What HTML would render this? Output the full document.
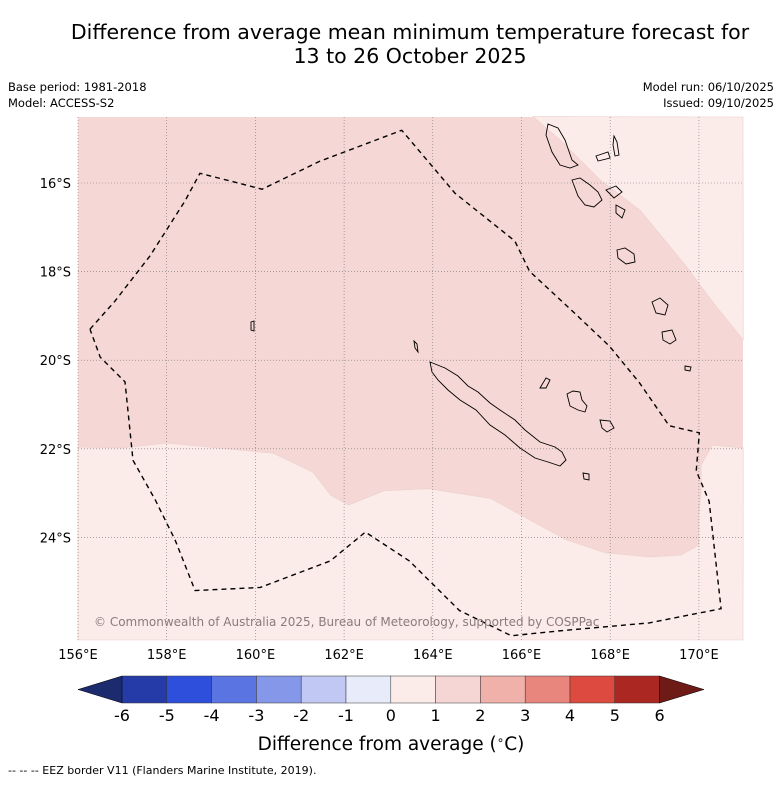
<!DOCTYPE html>
<html><head><meta charset="utf-8"><style>
body{margin:0;background:#fff;font-family:"Liberation Sans","DejaVu Sans",sans-serif}
svg text{font-family:"DejaVu Sans","Liberation Sans",sans-serif}
</style></head><body>
<svg id="c" width="781" height="781" viewBox="0 0 781 781" xmlns="http://www.w3.org/2000/svg">
<text x="410" y="39" font-size="20.5" text-anchor="middle">Difference from average mean minimum temperature forecast for</text>
<text x="410" y="63" font-size="20.5" text-anchor="middle">13 to 26 October 2025</text>
<text x="8" y="91" font-size="11.5">Base period: 1981-2018</text>
<text x="8" y="107" font-size="11.5">Model: ACCESS-S2</text>
<text x="774" y="91" font-size="11.5" text-anchor="end">Model run: 06/10/2025</text>
<text x="774" y="107" font-size="11.5" text-anchor="end">Issued: 09/10/2025</text>
<g id="map"></g>
<g id="cbar"></g>
<text x="391" y="750" font-size="18.5" text-anchor="middle">Difference from average (<tspan font-size="12" dy="-6">∘</tspan><tspan dy="6">C)</tspan></text>
<text x="8" y="774" font-size="11">--  --  -- EEZ border V11 (Flanders Marine Institute, 2019).</text>
</svg>
<script>
const lonTicks=[156,158,160,162,164,166,168,170];
const latTicks=[16,18,20,22,24];
const levels=[-6,-5,-4,-3,-2,-1,0,1,2,3,4,5,6];
const colors=["#243ba8","#2e4fdc","#5a74e2","#8497e9","#c1c8f3","#e8ebfa","#fbebe9","#f5d6d4","#efb1aa","#e8867e","#dc4a40","#ab2822"];
const lightSouthLon=[156,157,158,160.4,161.3,161.7,162.1,162.9,163.9,165.3,167,167.9,168.9,169.6,170,170,170.05,170.05,170.3,171];
const lightSouthLat=[21.96,21.98,21.87,22.1,22.53,23.05,23.27,22.95,22.9,23.12,24.05,24.35,24.44,24.4,24.17,23.5,22.93,22.37,21.92,21.98];
const lightNELon=[166.26,166.87,167.77,168.67,169.69,170.36,171];
const lightNELat=[14.5,15.03,15.93,16.61,17.85,18.75,19.54];
const eezLon=[156.27,156.83,157.62,158.41,158.75,160.15,161.45,163.3,164.5,165.85,166.18,167.2,167.98,168.66,169.33,170.01,169.94,170.23,170.5,168.88,166.85,165.77,164.6,163.47,162.48,161.69,160.11,158.64,158.19,157.74,157.24,157.06,156.5,156.27];
const eezLat=[19.3,18.67,17.65,16.41,15.78,16.14,15.51,14.81,16.23,17.31,17.99,18.94,19.68,20.51,21.48,21.64,22.5,23.18,25.61,25.93,26.11,26.22,25.65,24.53,23.88,24.53,25.13,25.2,24.06,23.15,22.26,20.49,19.93,19.3];
const X=lon=>78+(lon-156)*44.35, Y=lat=>183+(lat-16)*44.3;
const NS="http://www.w3.org/2000/svg";
function mk(t,a,p){const e=document.createElementNS(NS,t);for(const k in a)e.setAttribute(k,a[k]);p.appendChild(e);return e;}
const map=document.getElementById('map');
const L=78,T=117,R=743,B=640;
mk('rect',{x:L,y:T,width:R-L,height:B-T,fill:"#f5d7d5"},map);
function pts(lo,la){return lo.map((v,i)=>X(v)+','+Y(la[i])).join(' ');}
let p=mk('polygon',{points:`${L},${B} `+pts(lightSouthLon,lightSouthLat)+` ${R},${B}`,fill:"#fbebe9",stroke:"#ecd0cd","stroke-width":0.6},map);

p=mk('polygon',{points:pts(lightNELon,lightNELat)+` ${R},${T}`,fill:"#fbebe9",stroke:"#ecd0cd","stroke-width":0.6},map);

const isl=[
"414,341 417,344 418,352 415,348",
"430,362 445,368 458,376 468,386 478,392 490,403 500,410 515,420 525,430 540,442 555,447 562,452 566,460 560,466 548,462 535,458 520,448 505,435 490,425 476,410 460,400 448,390 438,380 432,372",
"540,388 546,378 550,380 546,388",
"567,394 573,391 580,392 582,400 587,406 585,412 578,410 570,406",
"600,420 610,421 614,428 607,432 602,428",
"583,473 589,474 589,480 584,479",
"548,124 558,128 565,140 572,160 578,165 570,168 560,165 552,152 546,135",
"614,136 617,142 619,155 615,156 613,145",
"596,156 608,152 610,158 598,161",
"572,180 580,178 590,185 598,192 602,200 594,207 585,205 578,196",
"606,190 616,186 622,192 614,198",
"616,205 625,210 622,218 616,213",
"617,250 625,248 634,254 635,262 626,264 618,258",
"652,302 660,298 668,305 665,315 656,313",
"662,332 672,330 676,340 670,344 663,340",
"685,366 691,367 690,371 685,370",
"251,322 254,321 254,331 251,330"];
isl.forEach((s,i)=>{const e=mk('polygon',{points:s,fill:"none",stroke:"#000","stroke-width":0.9},map);});
lonTicks.forEach(v=>{const e=mk('line',{x1:X(v),x2:X(v),y1:T,y2:B,stroke:"#777","stroke-width":0.6,"stroke-dasharray":"1,2"},map);
 const t=mk('text',{x:X(v),y:659,"font-size":13,"text-anchor":"middle"},map);t.textContent=v+'°E';});
latTicks.forEach(v=>{const e=mk('line',{x1:L,x2:R,y1:Y(v),y2:Y(v),stroke:"#777","stroke-width":0.6,"stroke-dasharray":"1,2"},map);
 const t=mk('text',{x:71,y:Y(v)+5,"font-size":13,"text-anchor":"end"},map);t.textContent=v+'°S';});
const eez=mk('polyline',{points:pts(eezLon,eezLat),fill:"none",stroke:"#000","stroke-width":1.4,"stroke-dasharray":"5,4"},map);

const cp=mk('text',{x:94,y:626,"font-size":12,fill:"#8a7c7c"},map);cp.textContent="© Commonwealth of Australia 2025, Bureau of Meteorology, supported by COSPPac";

const cb=document.getElementById('cbar');
const c0=122,cw=44.8,cy=676,ch=27;
colors.forEach((c,i)=>{const r=mk('rect',{x:c0+i*cw,y:cy,width:cw,height:ch,fill:c,stroke:"#333","stroke-width":0.5},cb);});
let a=mk('polygon',{points:`${c0},${cy} ${c0},${cy+ch} 78,${cy+ch/2}`,fill:"#1c2a6e",stroke:"#000","stroke-width":0.5},cb);
const ce=c0+colors.length*cw;
a=mk('polygon',{points:`${ce},${cy} ${ce},${cy+ch} 704,${cy+ch/2}`,fill:"#6e1a17",stroke:"#000","stroke-width":0.5},cb);
levels.forEach((v,i)=>{const t=mk('text',{x:c0+i*cw,y:721,"font-size":16,"text-anchor":"middle"},cb);t.textContent=v;});
</script>
</body></html>
